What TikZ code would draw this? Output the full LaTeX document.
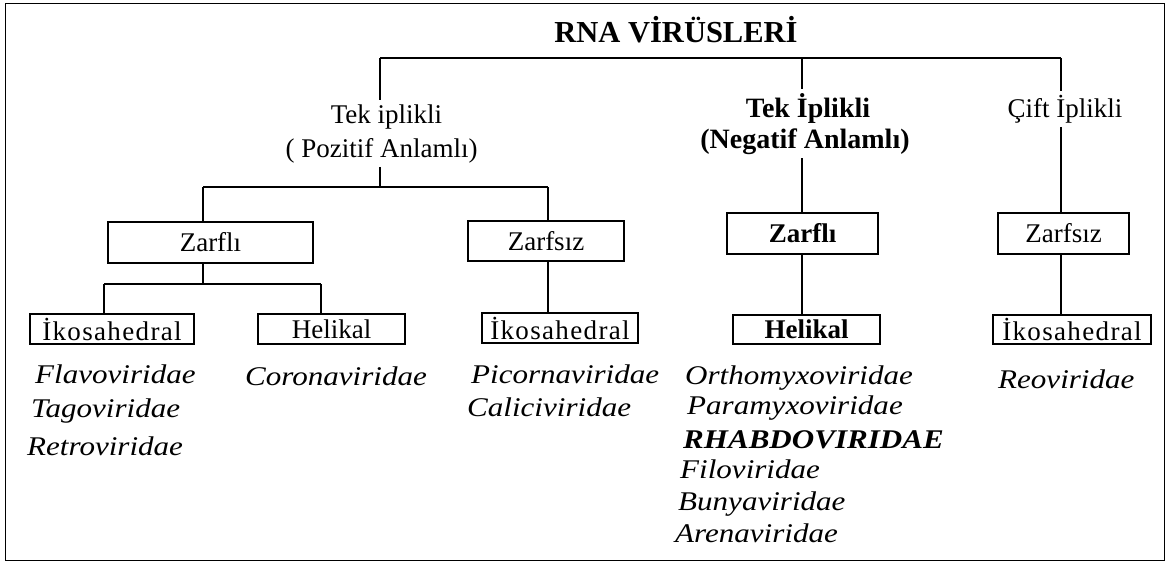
\documentclass[tikz,border=0pt]{standalone}
\usepackage{fontspec}
\setmainfont{Liberation Serif}
\newfontfamily\virfont{Liberation Serif}[FakeStretch=1.15]
\newcommand{\ikos}{\addfontfeature{LetterSpace=5}İkosahedral}
\begin{document}
\begin{tikzpicture}[x=1pt,y=-1pt,
  ln/.style={line width=1.8pt},
  box/.style={draw, line width=1.8pt, inner sep=0pt, font=\fontsize{27}{32}\selectfont},
  bbox/.style={box, font=\fontsize{27}{32}\selectfont\bfseries},
  lbl/.style={inner sep=4pt, anchor=base, font=\fontsize{27}{32}\selectfont},
  blbl/.style={lbl, font=\fontsize{28}{32}\selectfont\bfseries},
  vir/.style={inner sep=0pt, anchor=base west, font=\virfont\fontsize{27}{32}\selectfont\itshape},
  bvir/.style={vir, font=\virfont\fontsize{27}{32}\selectfont\bfseries\itshape}]
\useasboundingbox (0,0) rectangle (1169,563);
\draw[ln] (5.5,3.5) rectangle (1164.5,560.5);

% title
\node[inner sep=0pt, anchor=base, font=\fontsize{30.5}{34}\selectfont\bfseries] (title) at (676,42) {RNA VİRÜSLERİ};

% second level texts
\node[lbl] (tp1) at (386.5,123) {Tek iplikli};
\node[lbl] (tp2) at (381.5,157) {( Pozitif Anlamlı)};
\node[blbl] (tn1) at (808,117) {Tek İplikli};
\node[blbl] (tn2) at (805,148) {(Negatif Anlamlı)};
\node[lbl] (tc) at (1065,117) {Çift İplikli};

% boxes
\node[box, minimum width=205pt, minimum height=41pt] (zl) at (210.5,242.5) {Zarflı};
\node[box, minimum width=156pt, minimum height=40pt] (zs) at (546,241) {Zarfsız};
\node[bbox, minimum width=151pt, minimum height=41pt] (zn) at (802.5,233.5) {Zarflı};
\node[box, minimum width=131pt, minimum height=41pt] (zc) at (1063.5,233.5) {Zarfsız};
\node[box, minimum width=164pt, minimum height=30pt] (i1) at (112,329) {\ikos};
\node[box, minimum width=147pt, minimum height=30pt] (h1) at (331.5,329) {Helikal};
\node[box, minimum width=156pt, minimum height=30pt] (i2) at (560,328) {\ikos};
\node[bbox, minimum width=147pt, minimum height=29pt] (h2) at (806.5,329.5) {Helikal};
\node[box, minimum width=158pt, minimum height=29pt] (i3) at (1072,329.5) {\ikos};

% virus families
\node[vir] (f1) at (35,383) {Flavoviridae};
\node[vir] (f2) at (31,417) {Tagoviridae};
\node[vir] (f3) at (27,455) {Retroviridae};
\node[vir] (f4) at (245,385) {Coronaviridae};
\node[vir] (f5) at (471,383) {Picornaviridae};
\node[vir] (f6) at (467,416) {Caliciviridae};
\node[vir] (f7) at (685,384) {Orthomyxoviridae};
\node[vir] (f8) at (687,414) {Paramyxoviridae};
\node[bvir] (f9) at (683,448) {RHABDOVIRIDAE};
\node[vir] (f10) at (680,478) {Filoviridae};
\node[vir] (f11) at (678,510) {Bunyaviridae};
\node[vir] (f12) at (675,542) {Arenaviridae};
\node[vir] (f13) at (998,388) {Reoviridae};

% connector coordinates
\coordinate (b0) at (380,58);
\coordinate (b1) at (802,58);
\coordinate (b2) at (1061,58);
\coordinate (c0) at (203,187);
\coordinate (cm) at (380,187);
\coordinate (c1) at (548,187);
\coordinate (d0) at (104,284);
\coordinate (dm) at (203,284);
\coordinate (d1) at (321,284);

% connectors
\draw[ln] (b0) -- (b2);
\draw[ln] (b0) -- (b0 |- tp1.north);
\draw[ln] (b1) -- (b1 |- tn1.north);
\draw[ln] (b2) -- (b2 |- tc.north);
\draw[ln] (cm |- tp2.south) -- (cm);
\draw[ln] (c0) -- (c1);
\draw[ln] (c0) -- (c0 |- zl.north);
\draw[ln] (c1) -- (c1 |- zs.north);
\draw[ln] (dm |- zl.south) -- (dm);
\draw[ln] (d0) -- (d1);
\draw[ln] (d0) -- (d0 |- i1.north);
\draw[ln] (d1) -- (d1 |- h1.north);
\draw[ln] (c1 |- zs.south) -- (c1 |- i2.north);
\draw[ln] (b1 |- tn2.south) -- (b1 |- zn.north);
\draw[ln] (b1 |- zn.south) -- (b1 |- h2.north);
\draw[ln] (b2 |- tc.south) -- (b2 |- zc.north);
\draw[ln] (b2 |- zc.south) -- (b2 |- i3.north);
\end{tikzpicture}
\end{document}
